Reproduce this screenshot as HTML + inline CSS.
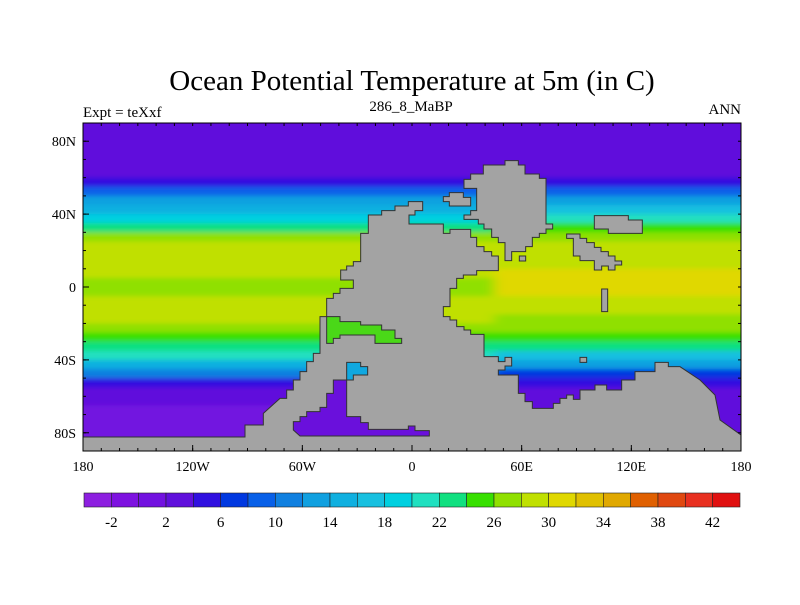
<!DOCTYPE html>
<html><head><meta charset="utf-8"><style>
body{margin:0;background:#fff;}
svg text{font-family:"Liberation Serif",serif;fill:#000;}
</style></head><body>
<svg id="c" width="800" height="600" viewBox="0 0 800 600">
<defs>
<clipPath id="mapclip"><rect x="83" y="123" width="658" height="328"/></clipPath>
<filter id="blur" x="-10%" y="-10%" width="120%" height="120%"><feGaussianBlur stdDeviation="6 2.5"/></filter>
</defs>
<text x="412" y="90" font-size="29" text-anchor="middle">Ocean Potential Temperature at 5m (in C)</text>
<text x="83" y="117" font-size="15">Expt = teXxf</text>
<text x="411" y="111" font-size="15" text-anchor="middle">286_8_MaBP</text>
<text x="741" y="114" font-size="15" text-anchor="end">ANN</text>
<g clip-path="url(#mapclip)">
<g id="field" filter="url(#blur)"></g>
<g transform="translate(280,150) scale(0.33333)" fill="#a3a3a3" stroke="#333" stroke-width="3">
<polygon points="385,155 428,155 428,182 405,182 405,195 387,195 387,222 490,222 490,250 510,250 510,238 572,238 572,262 590,262 590,290 612,290 612,305 635,305 635,318 655,318 655,362 590,362 590,375 550,375 550,385 530,385 530,415 510,415 510,470 490,470 490,500 510,500 510,510 530,510 530,530 552,530 552,540 572,540 572,553 612,553 612,620 655,620 655,635 675,635 675,622 695,622 695,648 675,648 675,660 655,660 655,675 715,675 715,730 735,730 735,755 757,755 757,775 820,775 820,760 840,760 840,745 860,745 860,735 880,735 880,748 900,748 900,720 945,720 945,705 980,705 980,720 1025,720 1025,690 1065,690 1065,665 1125,665 1125,637 1165,637 1165,650 1200,650 1260,690 1305,735 1320,810 1383,855 1383,920 -600,920 -600,861 -105,861 -105,825 -50,825 -50,790 0,745 20,745 20,720 40,720 40,690 60,690 60,665 80,665 80,635 100,635 100,610 120,610 120,500 140,500 140,445 160,445 160,430 180,430 180,415 220,415 220,390 182,390 182,360 200,360 200,348 220,348 220,335 242,335 242,250 265,250 265,195 305,195 305,182 345,182 345,168 385,168"/>
<polygon points="552,88 572,88 572,72 610,72 610,45 675,45 675,32 715,32 715,45 735,45 735,72 778,72 778,85 798,85 798,222 818,222 818,237 798,237 798,250 778,250 778,262 757,262 757,290 737,290 737,305 695,305 695,332 675,332 675,278 655,278 655,262 635,262 635,237 612,237 612,222 595,222 595,208 552,208 552,195 572,195 572,182 590,182 590,115 552,115"/>
<polygon points="490,140 508,140 508,128 550,128 550,142 572,142 572,168 508,168 508,155 490,155"/>
<polygon points="718,318 737,318 737,333 718,333"/>
<polygon points="943,197 1045,197 1045,210 1087,210 1087,250 985,250 985,237 943,237"/>
<polygon points="860,252 900,252 900,265 920,265 920,278 943,278 943,292 963,292 963,305 985,305 985,318 1005,318 1005,333 1025,333 1025,345 1005,345 1005,360 985,360 985,348 965,348 965,360 943,360 943,332 900,332 900,318 880,318 880,265 860,265"/>
<polygon points="965,417 983,417 983,485 965,485"/>
<polygon points="900,622 920,622 920,637 900,637"/>
<polygon fill="#4ad818" points="140,500 180,500 180,515 242,515 242,525 305,525 305,540 345,540 345,565 365,565 365,580 285,580 285,555 180,555 180,565 160,565 160,580 140,580"/>
<polygon fill="#10a8e0" points="200,637 242,637 242,650 263,650 263,675 220,675 220,690 200,690"/>
<polygon fill="#6a10dc" points="40,815 60,815 60,800 80,800 80,785 120,785 120,772 140,772 140,730 160,730 160,690 200,690 200,800 242,800 242,818 265,818 265,838 385,838 385,828 405,828 405,842 448,842 448,858 60,858 40,840"/>
</g>
</g>
<rect x="83" y="123" width="658" height="328" fill="none" stroke="#000" stroke-width="1"/>
<g id="axes"></g>
<g id="cbar"></g>
</svg>
<script>
const lats=[87.5,82.5,77.5,72.5,67.5,62.5,57.5,52.5,47.5,42.5,37.5,32.5,27.5,22.5,17.5,12.5,7.5,2.5,-2.5,-7.5,-12.5,-17.5,-22.5,-27.5,-32.5,-37.5,-42.5,-47.5,-52.5,-57.5,-62.5,-67.5,-72.5,-77.5,-82.5,-87.5];
const westTemps=[3,3,3,3,3,3.5,5,9,12,15,19,23,26,28,28,29,28,26,27,28,28.5,28,27,25,23,20,15,10,5.5,3,2,1.5,1.5,1.5,1.5,1.5];
const eastTemps=[2,2,2,2,2.5,3,5,8,12,17,21,25,27,28,28.5,29,30,30,30,29,28,27,26,25,22,17,12,7,4,3,2.5,2,2,2,2,2];
const lons=[-172.5,-157.5,-142.5,-127.5,-112.5,-97.5,-82.5,-67.5,-52.5,-37.5,-22.5,-7.5,7.5,22.5,37.5,52.5,67.5,82.5,97.5,112.5,127.5,142.5,157.5,172.5];
const levels=[-4,-2,0,2,4,6,8,10,12,14,16,18,20,22,24,26,28,30,32,34,36,38,40,42,44];
const colors=["#8d1fe0","#7e12e0","#7212e0","#6010dc","#3010e0","#0038e0","#0860e8","#1080e0","#10a0e0","#10b0e0","#18c0e0","#00d0e0","#20e0c0","#10e080","#38e000","#90e000","#c0e000","#e0d800","#e0c000","#e0a800","#e06000","#e04810","#e83020","#e01010"];
const xTicks=[-180,-120,-60,0,60,120,180];
const xLabels=["180","120W","60W","0","60E","120E","180"];
const yTicks=[80,40,0,-40,-80];
const yLabels=["80N","40N","0","40S","80S"];
const cbLabels=[-2,2,6,10,14,18,22,26,30,34,38,42];
const NS="http://www.w3.org/2000/svg";
const X=lon=>83+(lon+180)*658/360;
const Y=lat=>123+(90-lat)*328/180;
function col(t){for(let i=0;i<colors.length;i++){if(t<levels[i+1])return colors[i];}return colors[colors.length-1];}
function mk(tag,parent,attrs){const e=document.createElementNS(NS,tag);for(const k in attrs)e.setAttribute(k,attrs[k]);parent.appendChild(e);return e;}
const field=document.getElementById('field');
lons.forEach((lon,ci)=>{lats.forEach((lat,ri)=>{
  const east=lat>50?lon>=0:lon>=45;
  const t=east?eastTemps[ri]:westTemps[ri];
  let x0=X(lon-7.5),x1=X(lon+7.5),y0=Y(lat+2.5),y1=Y(lat-2.5);
  if(ci===0)x0-=25;if(ci===lons.length-1)x1+=25;if(ri===0)y0-=20;if(ri===lats.length-1)y1+=20;
  const r=mk('rect',field,{x:x0,y:y0,width:x1-x0+0.5,height:y1-y0+0.5,fill:col(t)});
  
  
});});
const ax=document.getElementById('axes');
xTicks.forEach((v,i)=>{
  const t=mk('text',ax,{x:X(v),y:471,'font-size':14,'text-anchor':'middle'});t.textContent=xLabels[i];
  
  
  const l=mk('line',ax,{x1:X(v),x2:X(v),y1:451,y2:445,stroke:'#000'});
  
  
});
for(let v=-170;v<180;v+=10){mk('line',ax,{x1:X(v),x2:X(v),y1:451,y2:448,stroke:'#000'});mk('line',ax,{x1:X(v),x2:X(v),y1:123,y2:126,stroke:'#000'});}
yTicks.forEach((v,i)=>{
  const t=mk('text',ax,{x:76,y:Y(v)+5,'font-size':14,'text-anchor':'end'});t.textContent=yLabels[i];
  
  
  const l=mk('line',ax,{x1:83,x2:89,y1:Y(v),y2:Y(v),stroke:'#000'});
  
  
});
for(let v=-80;v<=80;v+=10){mk('line',ax,{x1:83,x2:86,y1:Y(v),y2:Y(v),stroke:'#000'});mk('line',ax,{x1:741,x2:738,y1:Y(v),y2:Y(v),stroke:'#000'});}
const cb=document.getElementById('cbar');
const CX=v=>84+(v+4)*656/48;
colors.forEach((c,i)=>{
  const r=mk('rect',cb,{x:CX(levels[i]),y:493,width:CX(levels[i+1])-CX(levels[i]),height:14,fill:c,stroke:'#222','stroke-width':0.6});
  
  
});
cbLabels.forEach(v=>{
  const t=mk('text',cb,{x:CX(v),y:527,'font-size':15,'text-anchor':'middle'});t.textContent=v;
  
  
});
</script>
</body></html>
